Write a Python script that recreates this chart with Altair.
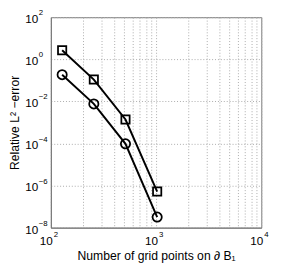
import altair as alt
import pandas as pd

n_points = [128, 256, 512, 1024]
err_square = [2.67, 0.109, 1.38e-3, 5.2e-7]
err_circle = [0.186, 7.6e-3, 9.6e-5, 3.2e-8]

x_exponents = [2, 3, 4]
y_exponents = [-8, -6, -4, -2, 0, 2]

rows = []
for i, n in enumerate(n_points):
    rows.append({"n": n, "err": err_square[i], "series": "square"})
    rows.append({"n": n, "err": err_circle[i], "series": "circle"})
df = pd.DataFrame(rows)


def sup(e):
    return str(e).replace("-", "\u2212")


x_lab = pd.DataFrame({"n": [10.0 ** e for e in x_exponents], "sup": [sup(e) for e in x_exponents]})
y_lab = pd.DataFrame({"err": [10.0 ** e for e in y_exponents], "sup": [sup(e) for e in y_exponents]})

x_grid = [m * 10 ** e for e in (2, 3) for m in range(1, 10)] + [10000]
y_grid = [10.0 ** e for e in y_exponents]

FONT = "Liberation Sans"
W = H = 216

xs = alt.Scale(type="log", domain=[100, 10000], nice=False)
ys = alt.Scale(type="log", domain=[1e-8, 1e2], nice=False)

x = alt.X("n:Q", scale=xs,
          axis=alt.Axis(values=x_grid, labels=False, title="Number of grid points on ∂ B₁",
                        grid=True, gridDash=[1, 2], gridColor="#aaaaaa",
                        ticks=False, domainColor="#777777",
                        titleFont=FONT, titleFontSize=12.5, titleFontWeight="normal",
                        titleColor="black", titlePadding=23))
y = alt.Y("err:Q", scale=ys,
          axis=alt.Axis(values=y_grid, labels=False, title="Relative L² −error",
                        grid=True, gridDash=[1, 2], gridColor="#aaaaaa",
                        ticks=False, domainColor="#777777",
                        titleFont=FONT, titleFontSize=12.5, titleFontWeight="normal",
                        titleColor="black", titlePadding=30))

base = alt.Chart(df)
lines = base.mark_line(color="black", strokeWidth=2).encode(x=x, y=y, detail="series:N")
squares = base.transform_filter(alt.datum.series == "square").mark_point(
    shape="square", size=72, filled=False, color="black", strokeWidth=1.8, opacity=1
).encode(x=x, y=y)
circles = base.transform_filter(alt.datum.series == "circle").mark_point(
    shape="circle", size=90, filled=False, color="black", strokeWidth=1.8, opacity=1
).encode(x=x, y=y)

xl_base = alt.Chart(x_lab).mark_text(
    align="right", baseline="alphabetic", dx=2, font=FONT, fontSize=12, color="black"
).encode(x=x, y=alt.value(H + 18), text=alt.value("10"))
xl_sup = alt.Chart(x_lab).mark_text(
    align="left", baseline="alphabetic", dx=3, font=FONT, fontSize=8, color="black"
).encode(x=x, y=alt.value(H + 10), text="sup:N")

yl_base = alt.Chart(y_lab).mark_text(
    align="right", baseline="alphabetic", dy=6, font=FONT, fontSize=12, color="black"
).encode(x=alt.value(-13), y=y, text=alt.value("10"))
yl_sup = alt.Chart(y_lab).mark_text(
    align="left", baseline="alphabetic", dy=-2, font=FONT, fontSize=8, color="black"
).encode(x=alt.value(-12.5), y=y, text="sup:N")

chart = alt.layer(lines, squares, circles, xl_base, xl_sup, yl_base, yl_sup).properties(
    width=W, height=H,
    autosize=alt.AutoSizeParams(type="none"),
    padding={"left": 44, "top": 6, "right": 12, "bottom": 40},
    background="white",
).configure_view(stroke="#777777", strokeWidth=1)

chart.save("out.html", embed_options={"renderer": "svg", "actions": False})
